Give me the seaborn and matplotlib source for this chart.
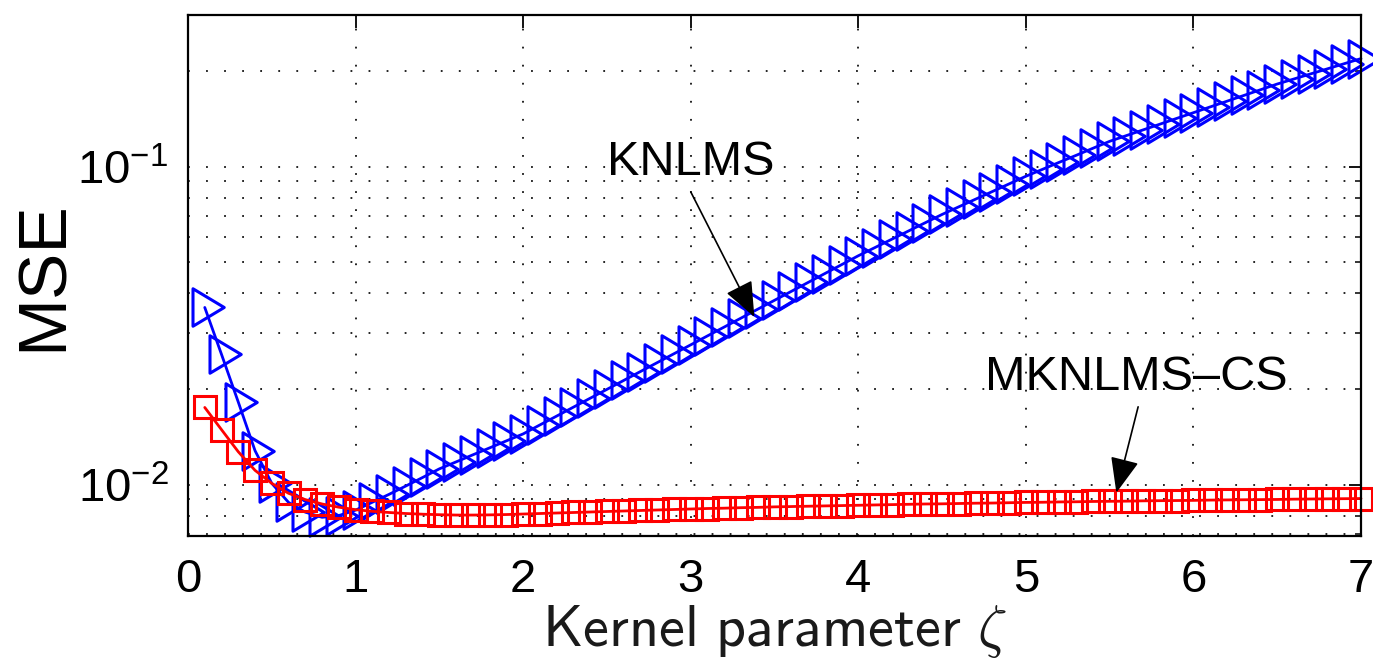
import matplotlib
matplotlib.use("Agg")
import matplotlib.pyplot as plt
from matplotlib.path import Path
from matplotlib.ticker import LogLocator, NullFormatter, FixedLocator
import pandas as pd
import seaborn as sns

# ---------------- data ----------------
zeta = [0.1, 0.2, 0.3, 0.4, 0.5, 0.6, 0.7, 0.8, 0.9, 1.0,
        1.1, 1.2, 1.3, 1.4, 1.5, 1.6, 1.7, 1.8, 1.9, 2.0,
        2.1, 2.2, 2.3, 2.4, 2.5, 2.6, 2.7, 2.8, 2.9, 3.0,
        3.1, 3.2, 3.3, 3.4, 3.5, 3.6, 3.7, 3.8, 3.9, 4.0,
        4.1, 4.2, 4.3, 4.4, 4.5, 4.6, 4.7, 4.8, 4.9, 5.0,
        5.1, 5.2, 5.3, 5.4, 5.5, 5.6, 5.7, 5.8, 5.9, 6.0,
        6.1, 6.2, 6.3, 6.4, 6.5, 6.6, 6.7, 6.8, 6.9, 7.0]

knlms = [0.0361, 0.0257, 0.0182, 0.0128, 0.0101, 0.0088, 0.0082, 0.0079, 0.0080, 0.00832,
         0.00881, 0.00933, 0.00991, 0.01054, 0.01122, 0.01180, 0.01242, 0.01306, 0.01374, 0.01445,
         0.01542, 0.01644, 0.01754, 0.01871, 0.01995, 0.02128, 0.02270, 0.02421, 0.02582, 0.02754,
         0.02938, 0.03133, 0.03342, 0.03565, 0.03802, 0.04055, 0.04325, 0.04613, 0.04920, 0.05248,
         0.05572, 0.05916, 0.06281, 0.06668, 0.07079, 0.07482, 0.07907, 0.08356, 0.08831, 0.09333,
         0.09817, 0.1033, 0.1086, 0.1143, 0.1202, 0.1253, 0.1306, 0.1361, 0.1419, 0.1479,
         0.1542, 0.1607, 0.1675, 0.1746, 0.1820, 0.1888, 0.1959, 0.2032, 0.2109, 0.2188]

mknlms_cs = [0.0175, 0.0149, 0.0127, 0.0111, 0.0101, 0.00940, 0.00898, 0.00870, 0.00850, 0.00835,
             0.00825, 0.00818, 0.00812, 0.00808, 0.00805, 0.00803, 0.00803, 0.00804, 0.00806, 0.00809,
             0.00812, 0.00815, 0.00818, 0.00821, 0.00824, 0.00827, 0.00830, 0.00833, 0.00836, 0.00839,
             0.00842, 0.00844, 0.00847, 0.00849, 0.00852, 0.00854, 0.00856, 0.00858, 0.00860, 0.00862,
             0.00864, 0.00866, 0.00868, 0.00870, 0.00871, 0.00873, 0.00875, 0.00876, 0.00878, 0.00880,
             0.00881, 0.00883, 0.00884, 0.00886, 0.00887, 0.00888, 0.00890, 0.00891, 0.00892, 0.00893,
             0.00895, 0.00896, 0.00897, 0.00898, 0.00899, 0.00901, 0.00902, 0.00903, 0.00904, 0.00905]

x_ticks = [0, 1, 2, 3, 4, 5, 6, 7]
series_names = ["KNLMS", "MKNLMS\u2013CS"]

# ---------------- style ----------------
sns.set_style("white")
plt.rcParams["font.family"] = ["Liberation Sans", "DejaVu Sans"]
plt.rcParams["mathtext.fontset"] = "cm"
for key in ("text.color", "axes.labelcolor", "xtick.color", "ytick.color"):
    plt.rcParams[key] = "black"

fig = plt.figure(figsize=(13.73, 6.59), dpi=100)
ax = fig.add_axes([188 / 1373, 1 - 536 / 659, (1361 - 188) / 1373, (536 - 15) / 659])

tri = Path([(-0.8, -1.2), (1.2, 0.0), (-0.8, 1.2), (-0.8, -1.2)],
           [Path.MOVETO, Path.LINETO, Path.LINETO, Path.CLOSEPOLY])

df_k = pd.DataFrame({"zeta": zeta, "mse": knlms})
df_m = pd.DataFrame({"zeta": zeta, "mse": mknlms_cs})

sns.lineplot(data=df_k, x="zeta", y="mse", ax=ax, color="#0000ff", linewidth=2.0,
             marker=tri, markersize=27, markerfacecolor="none",
             markeredgecolor="#0000ff", markeredgewidth=2.2, clip_on=False)
sns.lineplot(data=df_m, x="zeta", y="mse", ax=ax, color="#ff0000", linewidth=2.0,
             marker="s", markersize=16.5, markerfacecolor="none",
             markeredgecolor="#ff0000", markeredgewidth=2.2, clip_on=False)

ax.set_yscale("log")
ax.set_xlim(0, 7)
ax.set_ylim(0.0069, 0.30)
ax.xaxis.set_major_locator(FixedLocator(x_ticks))
ax.set_xticklabels([str(t) for t in x_ticks])
ax.yaxis.set_major_locator(LogLocator(base=10, numticks=10))
ax.yaxis.set_minor_locator(LogLocator(base=10, subs=(2, 3, 4, 5, 6, 7, 8, 9), numticks=20))
ax.yaxis.set_minor_formatter(NullFormatter())

ax.tick_params(axis="both", which="both", direction="in", top=True, right=True,
               labelsize=34, color="black", labelcolor="black", pad=14)
ax.tick_params(which="major", length=9, width=1.3)
ax.tick_params(which="minor", length=4.5, width=1.1)
ax.tick_params(axis="x", pad=16)

for s in ax.spines.values():
    s.set_linewidth(1.6)
    s.set_color("black")

grid_kw = dict(color="#111111", linestyle=(0, (1.0, 9.0)), linewidth=1.3)
ax.grid(True, which="major", axis="both", **grid_kw)
ax.grid(True, which="minor", axis="y", **grid_kw)
ax.set_axisbelow(True)

ax.set_ylabel("MSE", fontsize=50, color="black")
ax.yaxis.set_label_coords((76 - 188) / 1173, 0.5)
ax.set_xlabel(r"$\mathsf{Kernel\ parameter}\ \zeta$", fontsize=42, va="top", color="#1a1a1a")
ax.xaxis.set_label_coords(0.5, -(603 - 536) / 521)

# annotations
ax.text(3.0, 0.103, series_names[0], fontsize=35, ha="center", va="center", color="black")
ax.annotate("", xy=(3.38, 0.0337), xytext=(3.0, 0.0834),
            arrowprops=dict(arrowstyle="-|>,head_length=1.1,head_width=0.45",
                            mutation_scale=20, color="black", lw=1.2,
                            shrinkA=0, shrinkB=0))
ax.text(5.66, 0.0217, series_names[1], fontsize=35, ha="center", va="center", color="black")
ax.annotate("", xy=(5.54, 0.00944), xytext=(5.67, 0.01758),
            arrowprops=dict(arrowstyle="-|>,head_length=1.1,head_width=0.45",
                            mutation_scale=20, color="black", lw=1.2,
                            shrinkA=0, shrinkB=0))

fig.savefig("out.png", dpi=100)
